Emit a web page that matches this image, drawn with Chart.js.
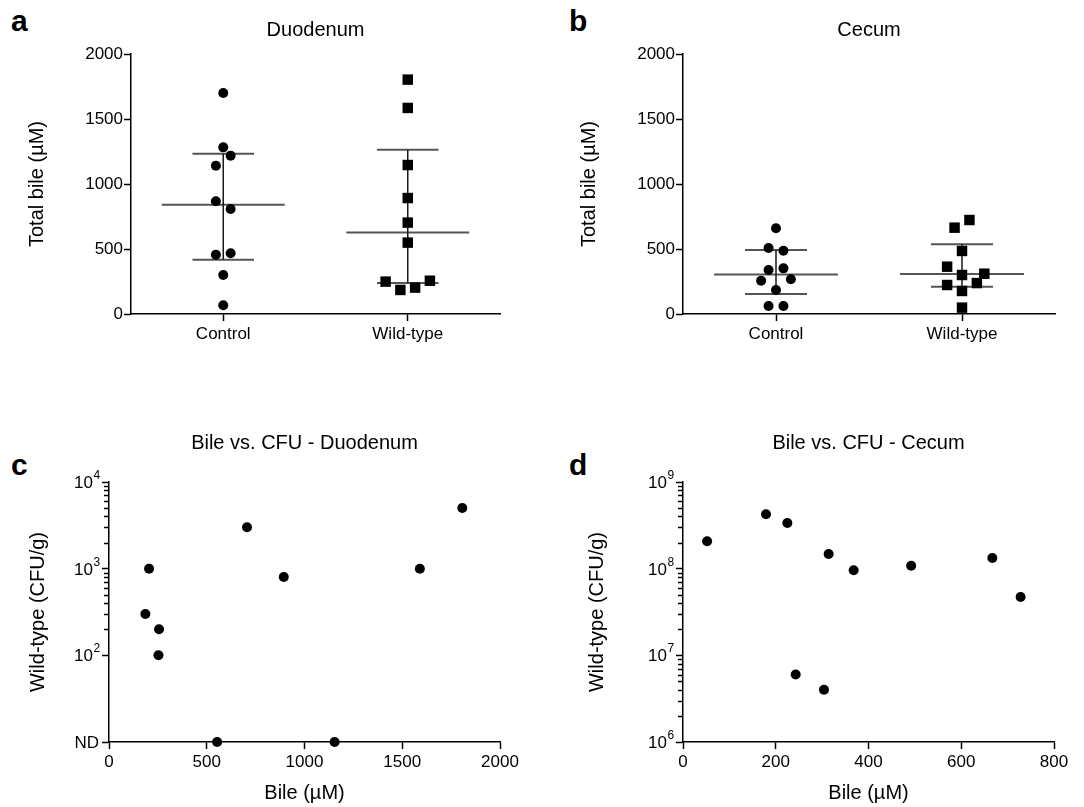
<!DOCTYPE html>
<html>
<head>
<meta charset="utf-8">
<script src="https://cdn.jsdelivr.net/npm/chart.js@4"></script>
<style>
  body { margin: 0; background: #fff; width: 1084px; height: 807px; position: relative; overflow: hidden; font-family: "Liberation Sans", Arial, sans-serif; }
  canvas { position: absolute; }
  .tag { position: absolute; font-weight: bold; font-size: 30px; line-height: 30px; color: #000; }
</style>
</head>
<body>
<div class="tag" style="left:11px;top:6px">a</div>
<div class="tag" style="left:569px;top:6px">b</div>
<div class="tag" style="left:11px;top:450px">c</div>
<div class="tag" style="left:569px;top:450px">d</div>
<canvas id="chartA" width="542" height="400" style="left:0;top:0"></canvas>
<canvas id="chartB" width="542" height="400" style="left:542px;top:0"></canvas>
<canvas id="chartC" width="542" height="407" style="left:0;top:400px"></canvas>
<canvas id="chartD" width="542" height="407" style="left:542px;top:400px"></canvas>
<script>
// a / b : total bile per group
var groups = ['Control', 'Wild-type'];

var duoControl  = [1700, 1282, 1218, 1141, 867, 808, 456, 467, 300, 67];
var duoWildType = [1803, 1585, 1146, 892, 703, 549, 249, 256, 185, 203];
var cecControl  = [659, 508, 487, 338, 351, 256, 267, 185, 62, 62];
var cecWildType = [723, 664, 485, 364, 300, 310, 223, 238, 177, 49];

// median and interquartile range as drawn
var duoMedian = [841, 626];
var duoQ1 = [418, 238];
var duoQ3 = [1233, 1264];
var cecMedian = [303, 308];
var cecQ1 = [154, 210];
var cecQ3 = [492, 536];

var bileTicks = [0, 500, 1000, 1500, 2000];

// c / d : wild-type CFU vs bile (10 = ND)
var duoBile = [1807, 706, 205, 894, 1590, 186, 256, 253, 553, 1154];
var duoCFU  = [5000, 3000, 1000, 800, 1000, 300, 200, 100, 10, 10];
var cecBile = [52, 179, 225, 314, 368, 492, 667, 728, 243, 304];
var cecCFU  = [2.07e8, 4.24e8, 3.36e8, 1.48e8, 9.6e7, 1.08e8, 1.33e8, 4.7e7, 6.0e6, 4.0e6];

var duoBileTicks = [0, 500, 1000, 1500, 2000];
var cecBileTicks = [0, 200, 400, 600, 800];
var duoCFUTicks  = [10, 100, 1000, 10000];
var duoCFULabels = ['ND', '10^2', '10^3', '10^4'];
var cecCFUTicks  = [1e6, 1e7, 1e8, 1e9];
var cecCFULabels = ['10^6', '10^7', '10^8', '10^9'];

// sideways spread of the dots, in steps (layout only)
var jitDuoControl  = [0, 0, 1, -1, -1, 1, -1, 1, 0, 0];
var jitDuoWildType = [0, 0, 0, 0, 0, 0, -3, 3, -1, 1];
var jitCecControl  = [0, -1, 1, -1, 1, -2, 2, 0, -1, 1];
var jitCecWildType = [1, -1, 0, -2, 0, 3, -2, 2, 0, 0];

var FONT = '"Liberation Sans", Arial, sans-serif';
var STEP = 0.04, MED_W = 0.333, IQR_W = 0.167;

function axisBase() {
  return {
    grid: { drawOnChartArea: false, tickLength: 7, tickColor: '#000', tickWidth: 1.5 },
    border: { color: '#000', width: 1.5 },
    ticks: { color: '#000', font: { family: FONT, size: 17 }, callback: function (v) { return String(v); } }
  };
}

function titleOpts(text, top, bottom) {
  return {
    display: true, text: text, color: '#000', fullSize: false,
    font: { family: FONT, size: 20, weight: 'normal', lineHeight: 1.2 },
    padding: { top: top, bottom: bottom }
  };
}

function dotPlot(id, series, jitters, med, q1, q3, title, yWidth, yTitlePad, padRight) {
  var vert = [], iqr = [], mid = [];
  for (var i = 0; i < groups.length; i++) {
    var c = i + 1;
    vert.push({x: c, y: q1[i]}, {x: c, y: q3[i]}, {x: c, y: null});
    iqr.push({x: c - IQR_W, y: q1[i]}, {x: c + IQR_W, y: q1[i]}, {x: c, y: null},
             {x: c - IQR_W, y: q3[i]}, {x: c + IQR_W, y: q3[i]}, {x: c, y: null});
    mid.push({x: c - MED_W, y: med[i]}, {x: c + MED_W, y: med[i]}, {x: c, y: null});
  }
  var datasets = series.map(function (vals, g) {
    return {
      data: vals.map(function (v, k) { return {x: g + 1 + jitters[g][k] * STEP, y: v}; }),
      pointStyle: g === 0 ? 'circle' : 'rect',
      pointRadius: g === 0 ? 5 : 7.4,
      backgroundColor: '#000', borderColor: '#000', borderWidth: 0,
      clip: false, order: 0
    };
  });
  datasets.push({ data: vert, showLine: true, pointRadius: 0, borderColor: '#1a1a1a', borderWidth: 1.5, order: 1, clip: false });
  datasets.push({ data: iqr, showLine: true, pointRadius: 0, borderColor: '#555', borderWidth: 2, order: 1, clip: false });
  datasets.push({ data: mid, showLine: true, pointRadius: 0, borderColor: '#555', borderWidth: 2, order: 1, clip: false });

  var x = axisBase();
  x.type = 'linear'; x.min = 0.5; x.max = 2.5;
  x.afterBuildTicks = function (s) { s.ticks = groups.map(function (g, i) { return {value: i + 1}; }); };
  x.ticks.callback = function (v, i) { return groups[i]; };
  x.ticks.padding = 3;
  x.afterFit = function (s) { s.height = 40; };

  var y = axisBase();
  y.min = 0; y.max = 2000;
  y.afterBuildTicks = function (s) { s.ticks = bileTicks.map(function (v) { return {value: v}; }); };
  y.ticks.padding = 1;
  y.title = { display: true, text: 'Total bile (µM)', color: '#000', font: { family: FONT, size: 20, lineHeight: 1.2 }, padding: { top: yTitlePad } };
  y.afterFit = function (s) { s.width = yWidth; };

  return new Chart(document.getElementById(id), {
    type: 'scatter',
    data: { datasets: datasets },
    options: {
      responsive: false, animation: false, devicePixelRatio: 1, events: [],
      layout: { padding: { left: 0, top: 0, right: padRight, bottom: 46 } },
      plugins: { legend: { display: false }, tooltip: { enabled: false }, title: titleOpts(title, 18, 12) },
      scales: { x: x, y: y }
    }
  });
}

// minor ticks and 10^n labels on the log axes
var logAxis = {
  id: 'logAxis',
  afterDraw: function (chart, args, o) {
    var s = chart.scales.y, ctx = chart.ctx, x0 = chart.chartArea.left;
    ctx.save();
    ctx.strokeStyle = '#000'; ctx.lineWidth = 1.5;
    o.minor.forEach(function (v) {
      var py = Math.round(s.getPixelForValue(v)) + 0.5;
      ctx.beginPath(); ctx.moveTo(x0 - 5, py); ctx.lineTo(x0, py); ctx.stroke();
    });
    ctx.fillStyle = '#000'; ctx.textBaseline = 'alphabetic';
    o.values.forEach(function (v, i) {
      var py = s.getPixelForValue(v);
      var parts = o.labels[i].split('^');
      if (parts.length === 2) {
        ctx.font = '12px ' + FONT; ctx.textAlign = 'left';
        ctx.fillText(parts[1], x0 - 16 + 0.5, py - 3);
        ctx.font = '17px ' + FONT; ctx.textAlign = 'right';
        ctx.fillText(parts[0], x0 - 16, py + 6);
      } else {
        ctx.font = '17px ' + FONT; ctx.textAlign = 'right';
        ctx.fillText(parts[0], x0 - 10, py + 6);
      }
    });
    ctx.restore();
  }
};

function minorTicks(decades) {
  var out = [];
  decades.forEach(function (d) { for (var k = 2; k <= 9; k++) out.push(k * d); });
  return out;
}

function cfuPlot(id, bile, cfu, xTicks, xMax, yTicks, yLabels, minor, title, yWidth, yTitlePad, padRight) {
  var x = axisBase();
  x.type = 'linear'; x.min = 0; x.max = xMax;
  x.afterBuildTicks = function (s) { s.ticks = xTicks.map(function (v) { return {value: v}; }); };
  x.ticks.padding = 3;
  x.title = { display: true, text: 'Bile (µM)', color: '#000', font: { family: FONT, size: 20, lineHeight: 1.2 }, padding: { top: 0, bottom: 2 } };
  x.afterFit = function (s) { s.height = 65; };

  var y = axisBase();
  y.type = 'logarithmic'; y.min = yTicks[0]; y.max = yTicks[yTicks.length - 1];
  y.afterBuildTicks = function (s) { s.ticks = yTicks.map(function (v) { return {value: v}; }); };
  y.ticks.display = false;
  y.title = { display: true, text: 'Wild-type (CFU/g)', color: '#000', font: { family: FONT, size: 20, lineHeight: 1.2 }, padding: { top: yTitlePad } };
  y.afterFit = function (s) { s.width = yWidth; };

  return new Chart(document.getElementById(id), {
    type: 'scatter',
    data: { datasets: [{
      data: bile.map(function (b, i) { return {x: b, y: cfu[i]}; }),
      pointRadius: 5, backgroundColor: '#000', borderColor: '#000', borderWidth: 0, clip: false
    }] },
    options: {
      responsive: false, animation: false, devicePixelRatio: 1, events: [],
      layout: { padding: { left: 0, top: 0, right: padRight, bottom: 0 } },
      plugins: {
        legend: { display: false }, tooltip: { enabled: false },
        title: titleOpts(title, 31, 27),
        logAxis: { values: yTicks, labels: yLabels, minor: minor }
      },
      scales: { x: x, y: y }
    },
    plugins: [logAxis]
  });
}

dotPlot('chartA', [duoControl, duoWildType], [jitDuoControl, jitDuoWildType], duoMedian, duoQ1, duoQ3, 'Duodenum', 131, 25, 42);
dotPlot('chartB', [cecControl, cecWildType], [jitCecControl, jitCecWildType], cecMedian, cecQ1, cecQ3, 'Cecum', 141, 35, 29);
cfuPlot('chartC', duoBile, duoCFU, duoBileTicks, 2000, duoCFUTicks, duoCFULabels, minorTicks([100, 1000]),
        'Bile vs. CFU - Duodenum', 109, 26, 42);
cfuPlot('chartD', cecBile, cecCFU, cecBileTicks, 800, cecCFUTicks, cecCFULabels, minorTicks([1e6, 1e7, 1e8]),
        'Bile vs. CFU - Cecum', 141, 43, 30);
</script>
</body>
</html>
